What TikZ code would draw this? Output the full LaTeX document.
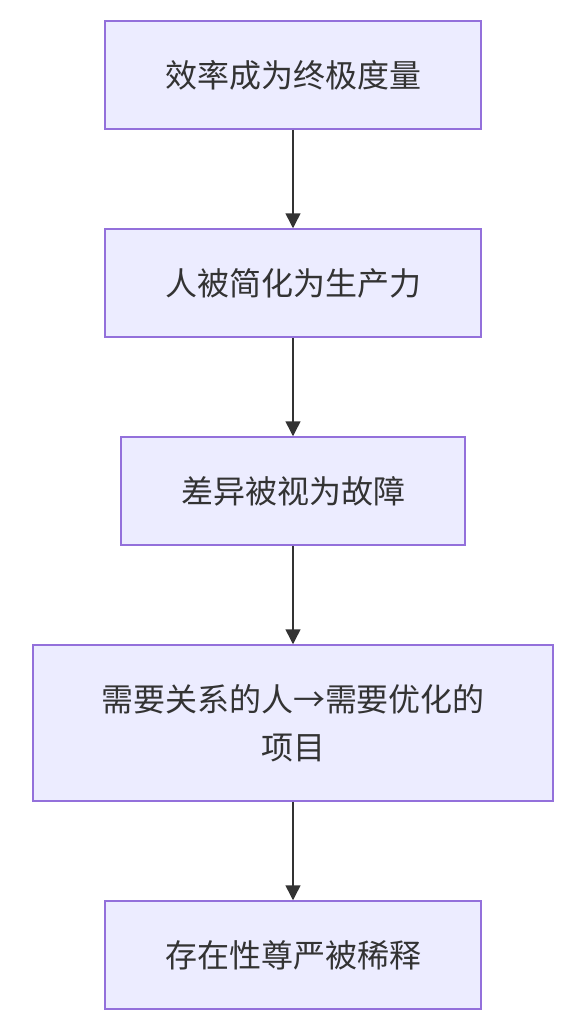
\documentclass[tikz,border=0pt]{standalone}
\usepackage{fontspec}
\newfontfamily\cjk{Noto Sans CJK SC}
\usetikzlibrary{arrows.meta}
\definecolor{nodefill}{HTML}{ECECFF}
\definecolor{nodeborder}{HTML}{9370DB}
\definecolor{ink}{HTML}{333333}
\tikzset{
  flowbox/.style={draw=nodeborder, fill=nodefill, line width=1.5pt, inner sep=0pt,
    text=ink, font=\cjk\fontsize{32}{48}\selectfont, align=center},
  flowarrow/.style={draw=ink, line width=1.5pt, -{Triangle[length=15pt,width=15pt]}}
}
\begin{document}
\begin{tikzpicture}[x=1pt,y=-1pt]
\useasboundingbox (0,0) rectangle (574,1034);
\node[flowbox, minimum width=376pt, minimum height=108pt] (a) at (293,75) {效率成为终极度量};
\node[flowbox, minimum width=376pt, minimum height=108pt] (b) at (293,283) {人被简化为生产力};
\node[flowbox, minimum width=344pt, minimum height=108pt] (c) at (293,491) {差异被视为故障};
\node[flowbox, minimum width=520pt, minimum height=156pt] (d) at (293,723) {需要关系的人→需要优化的\\项目};
\node[flowbox, minimum width=376pt, minimum height=108pt] (e) at (293,955) {存在性尊严被稀释};
\draw[flowarrow] (a.south) -- (b.north);
\draw[flowarrow] (b.south) -- (c.north);
\draw[flowarrow] (c.south) -- (d.north);
\draw[flowarrow] (d.south) -- (e.north);
\end{tikzpicture}
\end{document}
